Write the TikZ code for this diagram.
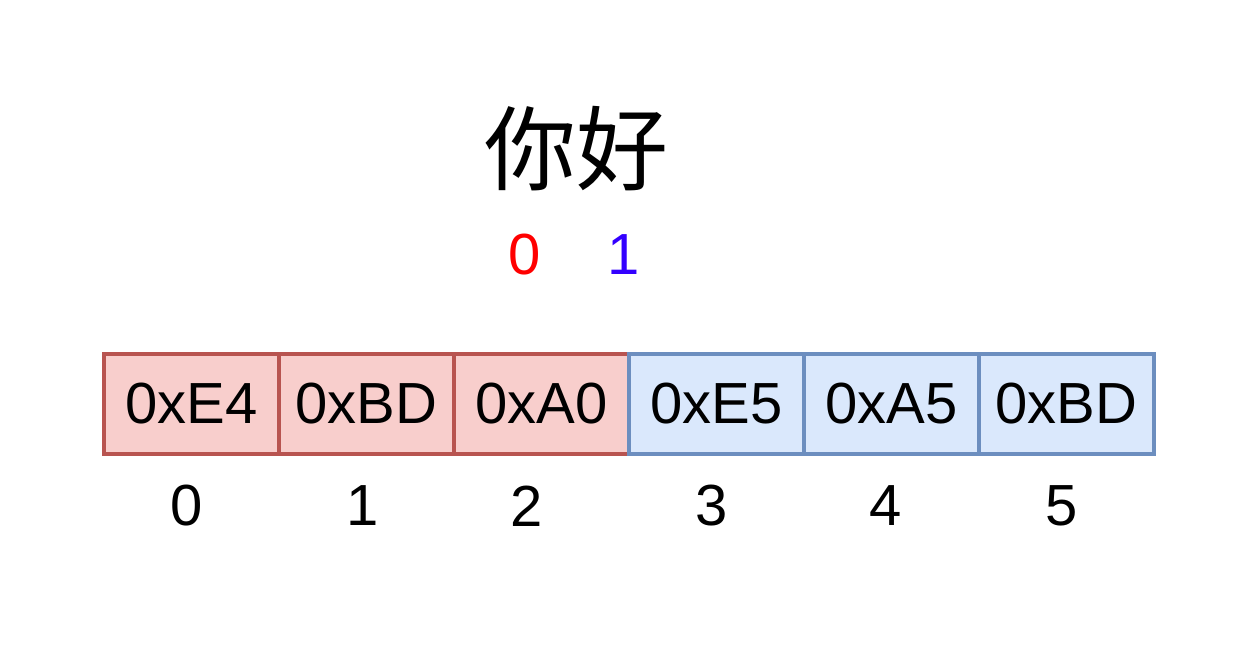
\documentclass[tikz,border=0pt]{standalone}
\usepackage{fontspec}
\setmainfont{Liberation Sans}
\newfontfamily\cjk{Noto Sans CJK SC}
\definecolor{redfill}{HTML}{F8CECC}
\definecolor{redline}{HTML}{B85450}
\definecolor{bluefill}{HTML}{DAE8FC}
\definecolor{blueline}{HTML}{6C8EBF}
\definecolor{txtred}{HTML}{FF0000}
\definecolor{txtblue}{HTML}{3300FF}
\begin{document}
\begin{tikzpicture}[x=1pt,y=-1pt,
  cell/.style={draw, line width=4pt, minimum width=175pt, minimum height=100pt, inner sep=0pt, anchor=north west, font=\fontsize{58}{64}\selectfont},
  redcell/.style={cell, fill=redfill, draw=redline},
  bluecell/.style={cell, fill=bluefill, draw=blueline},
  idx/.style={font=\fontsize{58}{64}\selectfont, inner sep=0pt}]
\useasboundingbox[fill=white] (0,0) rectangle (1255,655);
\node[redcell] (c0) at (102,352) {0xE4};
\node[redcell] (c1) at (277,352) {0xBD};
\node[redcell] (c2) at (452,352) {0xA0};
\node[bluecell] (c3) at (627,352) {0xE5};
\node[bluecell] (c4) at (802,352) {0xA5};
\node[bluecell] (c5) at (977,352) {0xBD};
\node[idx] (i0) at (187,506) {0};
\node[idx] (i1) at (363,506) {1};
\node[idx] (i2) at (527,506) {2};
\node[idx] (i3) at (712,506) {3};
\node[idx] (i4) at (886,506) {4};
\node[idx] (i5) at (1062,506) {5};
\node[inner sep=0pt, font=\cjk\fontsize{92}{100}\selectfont] (title) at (576,149) {你好};
\node[idx, text=txtred] (r0) at (525,255) {0};
\node[idx, text=txtblue] (b1) at (624,255) {1};
\end{tikzpicture}
\end{document}
